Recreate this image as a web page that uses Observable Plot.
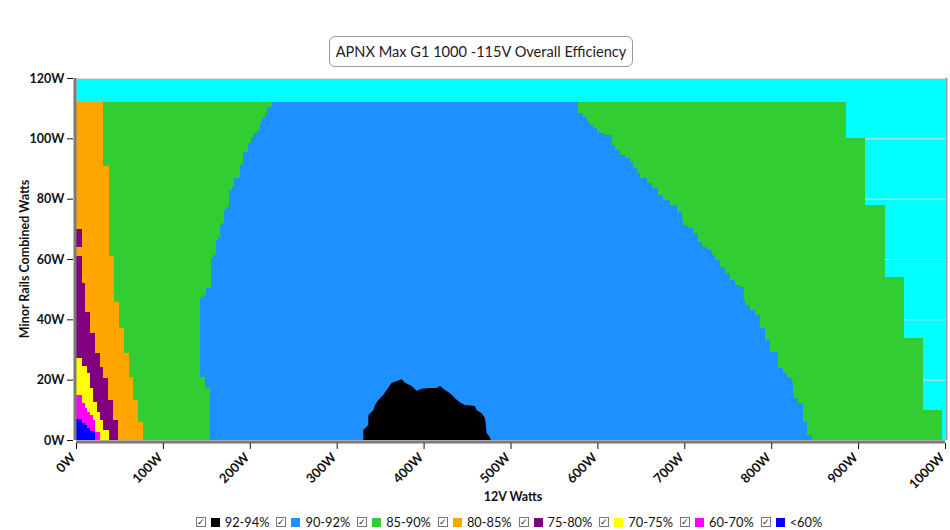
<!DOCTYPE html>
<html><head><meta charset="utf-8">
<script src="https://cdn.jsdelivr.net/npm/d3@7"></script>
<script src="https://cdn.jsdelivr.net/npm/@observablehq/plot@0.6"></script>
<style>
body{margin:0;background:#fff;font-family:"Open Sans",sans-serif;}
#wrap{position:relative;width:950px;height:530px;overflow:hidden;}
#chart{position:absolute;left:0;top:0;}
#title{position:absolute;left:329px;top:36px;width:302px;height:29px;border:1px solid #999;border-radius:6px;font-family:Lato,sans-serif;font-size:14.6px;line-height:29px;text-align:center;color:#222;white-space:nowrap;}
#ytitle{position:absolute;left:24px;top:259px;transform:translate(-50%,-50%) rotate(-90deg);font-family:Lato,sans-serif;font-weight:bold;font-size:12.5px;white-space:nowrap;color:#111;}
#xtitle{position:absolute;left:513px;top:489px;transform:translateX(-50%);font-family:Lato,sans-serif;font-weight:bold;font-size:12.5px;color:#111;}
#legend{position:absolute;top:514px;left:0;width:950px;display:flex;justify-content:center;gap:7px;font-family:Lato,sans-serif;font-size:12.8px;color:#111;padding-left:68px;box-sizing:border-box;}
.item{display:flex;align-items:center;gap:5px;}
.cb{width:8px;height:8px;border:1px solid #777;font-size:9px;line-height:8px;text-align:center;color:#222;}
.sw{width:9px;height:9px;}
</style></head>
<body><div id="wrap">
<div id="chart"></div>
<div id="title">APNX Max G1 1000 -115V Overall Efficiency</div>
<div id="ytitle">Minor Rails Combined Watts</div>
<div id="xtitle">12V Watts</div>
<div id="legend"></div>
</div>
<script>
// classes & colours
const classes = ["92-94%","90-92%","85-90%","80-85%","75-80%","70-75%","60-70%","<60%"];
const colors  = ["#000000","#1e90ff","#32cd32","#ffa500","#800080","#ffff00","#ff00ff","#0000ff"];
const xTicks = [0,100,200,300,400,500,600,700,800,900,1000];
const yTicks = [0,20,40,60,80,100,120];

// Boundaries: Y = band edges (minor rails W), X = right edge (12V W) of region for each band
const green85RightY = [0, 9.9, 33.7, 53.9, 77.9, 100.2, 112];
const green85RightX = [996, 975, 953, 931, 908, 886];

const blue90RightY = [0,1.7,6.1,12.2,13.8,15.5,19.3,20.5,22.1,23.8,29.3,33.1,37.0,41.4,43.1,44.7,46.4,50.8,51.4,53.0,55.3,57.4,59.7,61.3,63.0,64.1,65.7,68.5,70.2,71.3,72.9,75.7,77.8,79.5,81.2,83.4,85.1,86.7,88.4,90.1,92.2,93.4,94.5,96.1,97.8,101.1,101.7,102.2,103.3,104.4,105.5,107.2,108.3,112];
const blue90RightX = [846.6,841.5,836.9,831.2,825.4,825.4,823.6,817.8,813.9,808.1,798.6,792.9,787.1,781.4,775.6,769.8,768.7,764,758.3,752.6,746.8,741.1,735.3,731.5,725.8,720.0,716.1,710.4,704.6,698.9,697.0,691.3,683.5,675.8,670.1,662.5,656.7,649.0,645.2,641.3,637.5,631.8,626.0,620.3,616.5,608.7,603.0,599.2,595.3,591.5,587.7,583.8,578.0];

const green85LeftY = [0,17.1,21.0,47.5,48.1,50.3,60.2,61.3,66.3,67.4,71.3,71.8,76.2,77.3,82.9,84.0,86.7,91.2,95.6,98.3,100.5,101.7,102.8,105.3,106.6,108.3,110.5,112];
const green85LeftX = [154.2,148.4,142.7,146.5,149.3,155.0,158,160.8,163,165.7,168,170.7,173,176.4,179,182.2,188.7,192.5,198.3,201.4,204.0,207.9,211.7,214.4,217.5,220.1,225.2];

const orangeRightY = [0,6.0,13.3,20.9,28.8,37.1,45.8,61.1,90.8,112];
const orangeRightX = [76.8,71.7,65.9,61,55.2,49.5,43.7,38,31.4];

const purpleRightY = [0,6.6,13.3,20.5,24.3,28.7,35.4,42.5,51.9,61.1,64.1,69.8];
const purpleRightX = [48.7,42.9,37.2,31.4,27.6,21.9,16.1,10.4,6.6,0,7];

const yellowRightY = [0,3.3,6.6,9.4,12.7,17.1,22.1,24.5,27.1];
const yellowRightX = [38.3,31.4,27.6,23.8,19.9,16.1,12.3,6.6];

const magentaRightY = [0,2.8,6.6,8.3,9.4,10.5,12.2,14.9];
const magentaRightX = [27.6,21.9,19.9,16.1,12.3,10.4,6.6];

const blue60RightY = [0,3.1,3.9,5.0,5.5,6.9];
const blue60RightX = [21.9,16.1,12.3,10,6.6];

// 92-94% island outline (12V W, minor W)
const blackX = [330.6,330.6,336.4,336.4,342.1,344.1,347.9,353.6,357.5,363.3,370.9,374.8,378.6,386.3,392.1,397.8,407.4,415.1,418.9,424.6,430.4,436.1,441.9,447.6,459.1,461.1,466.9,470.7,472.6,476.4,477];
const blackY = [0,3.3,5.0,8.3,9.9,11.6,13.3,14.9,16.6,19.0,19.7,20.1,19.0,17.9,16.3,17.0,17.2,17.2,17.9,16.6,15.5,13.8,12.4,11.6,11.3,9.9,8.9,7.2,2.2,0.9,0];

function bands(Y, X) {
  return X.map((x, i) => ({x1: 0, x2: x, y1: Y[i], y2: Y[i+1]})).filter(d => d.x2 > 0);
}
const col = c => colors[classes.indexOf(c)];
const bandMark = (Y, X, c) => Plot.rect(bands(Y, X), {x1:"x1", x2:"x2", y1:"y1", y2:"y2", fill: col(c), shapeRendering: "crispEdges"});
const black = blackX.map((x, i) => ({x, y: blackY[i]}));

const plot = Plot.plot({
  width: 950, height: 530,
  marginLeft: 76, marginRight: 5, marginTop: 78, marginBottom: 90,
  x: {domain: [0, 1000]},
  y: {domain: [0, 120]},
  style: {fontFamily: "Lato, sans-serif", fontSize: "12.5px", fontWeight: "bold", color: "#111", background: "transparent"},
  marks: [
    Plot.frame({fill: "#00ffff", stroke: null}),
    Plot.gridY(yTicks, {stroke: "#dcdcdc", strokeOpacity: 1, strokeWidth: 1}),
    bandMark(green85RightY, green85RightX, "85-90%"),
    bandMark(blue90RightY, blue90RightX, "90-92%"),
    bandMark(green85LeftY, green85LeftX, "85-90%"),
    Plot.areaY(black, {x: "x", y1: 0, y2: "y", fill: col("92-94%"), curve: "linear"}),
    bandMark(orangeRightY, orangeRightX, "80-85%"),
    bandMark(purpleRightY, purpleRightX, "75-80%"),
    bandMark(yellowRightY, yellowRightX, "70-75%"),
    bandMark(magentaRightY, magentaRightX, "60-70%"),
    bandMark(blue60RightY, blue60RightX, "<60%"),
    Plot.ruleX([0], {stroke: "#7a7a7a", strokeWidth: 3, dx: -1.5}),
    Plot.ruleX([1000], {stroke: "#9a9a9a", strokeWidth: 2, dx: 1}),
    Plot.ruleY([0], {stroke: "#7a7a7a", strokeWidth: 3, dy: 1.5}),
    Plot.axisY(yTicks, {tickFormat: d => d + "W", tickSize: 6, tickPadding: 3, label: null, dx: -3, stroke: "#111"}),
    Plot.axisX(xTicks, {tickFormat: () => "", tickSize: 6, label: null, dy: 3, stroke: "#111"}),
    Plot.axisX(xTicks, {tickFormat: d => d + "W", tickSize: 0, tickPadding: 15, tickRotate: -45, label: null, dx: -3, fontSize: 13})
  ]
});
document.getElementById("chart").appendChild(plot);

const lg = document.getElementById("legend");
classes.forEach((c, i) => {
  const it = document.createElement("div");
  it.className = "item";
  it.innerHTML = `<div class="cb">✓</div><div class="sw" style="background:${colors[i]}"></div><span>${c}</span>`;
  lg.appendChild(it);
});
</script>
</body></html>
